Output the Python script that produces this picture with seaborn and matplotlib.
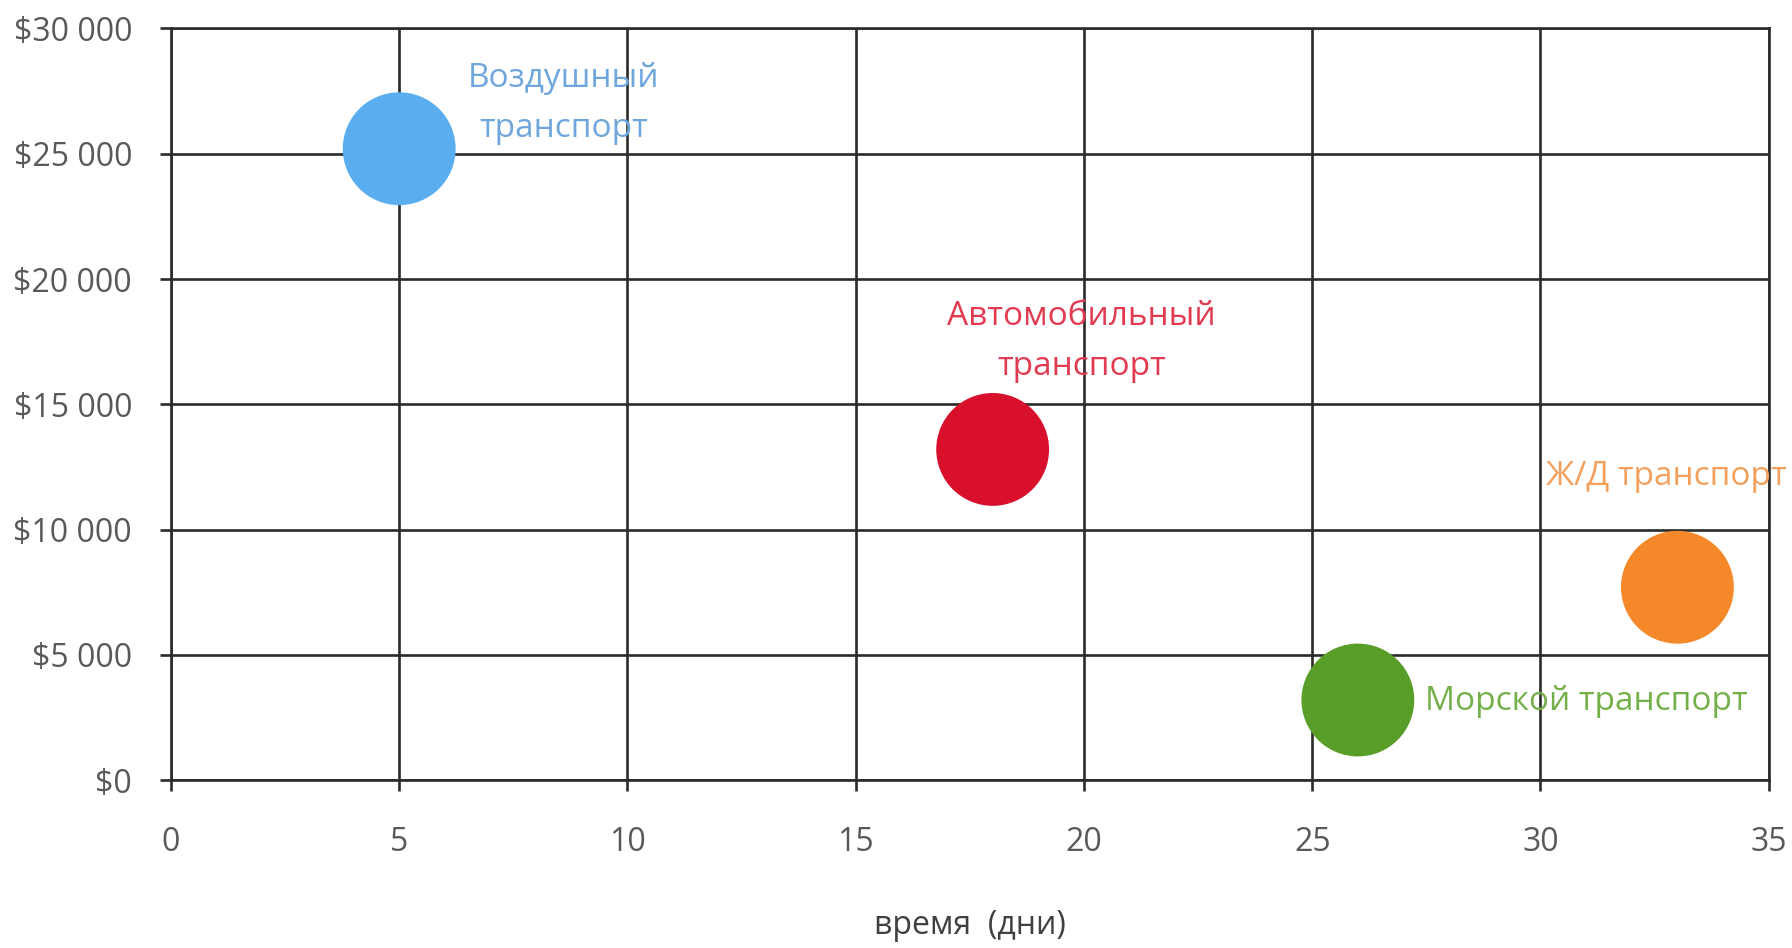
import pandas as pd
import matplotlib.pyplot as plt
import matplotlib.ticker as mticker
import seaborn as sns

# data
transport = ["Воздушный\nтранспорт", "Автомобильный\nтранспорт", "Ж/Д транспорт", "Морской транспорт"]
days = [5, 18, 33, 26]
cost = [25200, 13200, 7700, 3200]
bubble_colors = ["#5aaef0", "#d8102c", "#f5892a", "#5a9e2a"]
label_colors = ["#6fa6dc", "#e23a50", "#f2a05c", "#74b04a"]
label_x = [8.6, 19.95, 32.75, 31.0]
label_y = [27000, 17500, 12100, 3150]

df = pd.DataFrame({"days": days, "cost": cost, "transport": transport})

sns.set_theme(style="white")
plt.rcParams['font.family'] = ['Open Sans', 'DejaVu Sans']

fig = plt.figure(figsize=(17.92, 9.48), dpi=100)
ax = fig.add_axes([0.0954, 0.177, 0.8916, 0.793])

sns.scatterplot(data=df, x="days", y="cost", hue="transport",
                palette=bubble_colors, s=6600, linewidth=0,
                legend=False, ax=ax, zorder=3, clip_on=False)

for name, lx, ly, c in zip(transport, label_x, label_y, label_colors):
    ax.text(lx, ly, name, color=c, fontsize=24, ha="center", va="center",
            linespacing=1.7, zorder=4, clip_on=False)

ax.set_xlim(0, 35)
ax.set_ylim(0, 30000)
ax.set_xticks(range(0, 36, 5))
ax.set_yticks(range(0, 30001, 5000))
ax.yaxis.set_major_formatter(mticker.FuncFormatter(
    lambda v, p: "$" + f"{int(v):,}".replace(",", " ")))

ax.grid(True, color="#2b2b2b", linewidth=1.9)
ax.set_axisbelow(True)
for sp in ax.spines.values():
    sp.set_color("#2b2b2b")
    sp.set_linewidth(1.9)

ax.tick_params(axis="both", direction="out", length=8, width=1.9,
               color="#2b2b2b", labelcolor="#595959", labelsize=23)
ax.tick_params(axis="x", pad=25)
ax.tick_params(axis="y", pad=20)
ax.tick_params(left=True, bottom=True)

ax.set_xlabel("время  (дни)", fontsize=23, color="#404040", labelpad=36)
ax.set_ylabel("")

fig.savefig("out.png", dpi=100)
